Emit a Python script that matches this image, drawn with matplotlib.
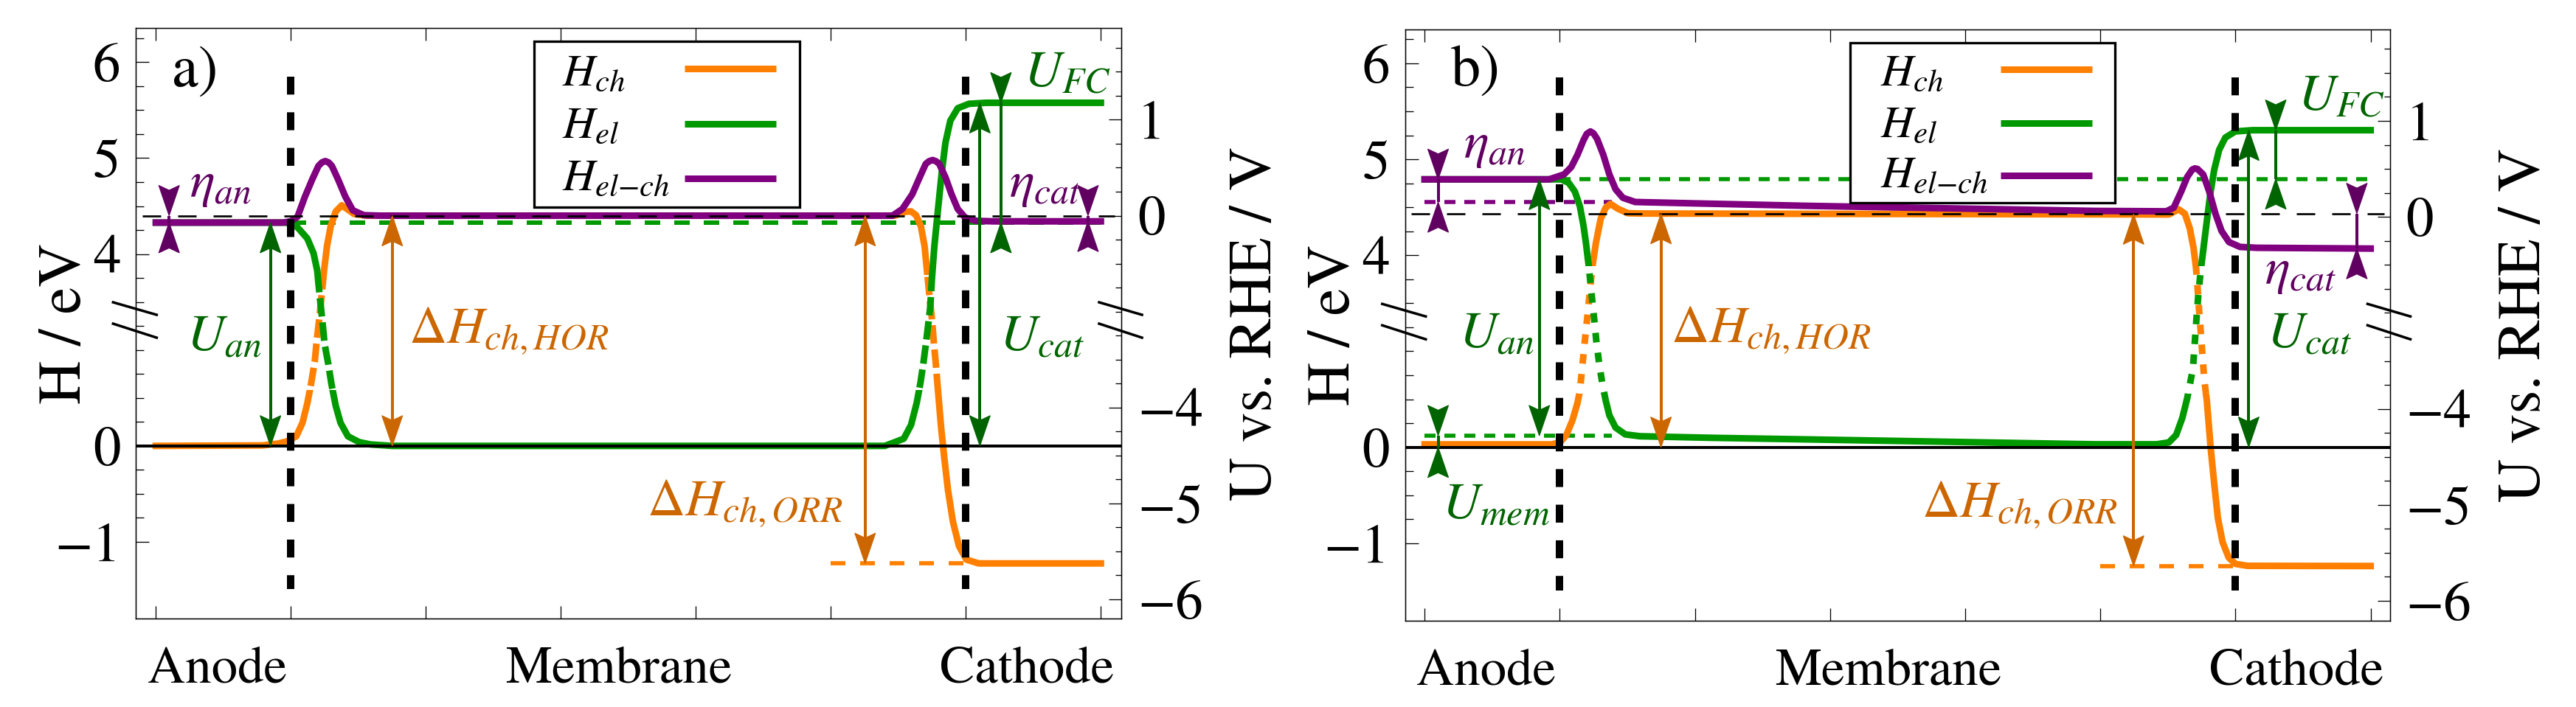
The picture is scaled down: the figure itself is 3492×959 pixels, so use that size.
import numpy as np
import matplotlib
matplotlib.use("Agg")
import matplotlib.pyplot as plt
import matplotlib.transforms as mtransforms
from matplotlib.patches import Rectangle, Polygon
from matplotlib.lines import Line2D
from matplotlib.ticker import FixedLocator

DPI = 100


def pt(px):
    return px * 72.0 / DPI


plt.rcParams['font.family'] = ['STIXGeneral', 'DejaVu Serif']
plt.rcParams['mathtext.fontset'] = 'stix'
plt.rcParams['lines.scale_dashes'] = False

C_ORANGE = '#ff8000'
C_GREEN = '#009900'
C_PURPLE = '#800080'
C_DKGREEN = '#006400'
C_BROWN = '#cc6600'
C_DKPURPLE = '#600060'

# ---------------- shared axis data ----------------
pos_labels = ['Anode', 'Membrane', 'Cathode']
pos_label_x = [0.455, 3.43, 6.45]
x_tick_pos = [0, 1, 2, 3, 4, 5, 6, 7]
h_tick_pos = [-1, 0, 2, 3, 4]
h_tick_lab = ['\u22121', '0', '4', '5', '6']
u_tick_pos = [-1.6, -0.6, 0.4, 2.4, 3.4]
u_tick_lab = ['\u22126', '\u22125', '\u22124', '0', '1']
interface_x = [1.0, 6.0]
interface_y = [3.85, -1.49]
legend_labels = [r'$H_{ch}$', r'$H_{el}$', r'$H_{el{-}ch}$']
legend_colors = [C_ORANGE, C_GREEN, C_PURPLE]

# ---------------- panel a data ----------------
a_orange_x = [0.0, 0.79, 0.904, 0.977, 1.04, 1.086, 1.122, 1.15, 1.177, 1.191,
              1.21, 1.228, 1.246, 1.268, 1.295, 1.332, 1.377, 1.468, 1.56, 5.475,
              5.549, 5.594, 5.631, 5.667, 5.694, 5.712, 5.73, 5.749, 5.767, 5.776,
              5.794, 5.817, 5.84, 5.867, 5.904, 5.949, 6.004, 6.095, 6.2, 7.0]
a_orange_y = [0.0, 0.005, 0.024, 0.05, 0.10, 0.24, 0.445, 0.65, 0.88, 1.09,
              1.32, 1.57, 1.83, 2.085, 2.29, 2.443, 2.508, 2.418, 2.40, 2.40,
              2.44, 2.445, 2.405, 2.29, 2.085, 1.83, 1.57, 1.32, 1.01, 0.88,
              0.572, 0.188, -0.12, -0.453, -0.788, -1.044, -1.185, -1.225, -1.225, -1.225]
a_green_x = [0.0, 0.95, 1.0, 1.05, 1.122, 1.168, 1.195, 1.213, 1.232, 1.25,
             1.277, 1.30, 1.332, 1.368, 1.423, 1.505, 1.59, 1.75, 5.40, 5.457,
             5.54, 5.594, 5.636, 5.663, 5.685, 5.708, 5.736, 5.749, 5.767, 5.794,
             5.822, 5.849, 5.885, 5.94, 6.022, 6.15, 7.0]
a_green_y = [2.328, 2.328, 2.318, 2.277, 2.162, 2.008, 1.83, 1.57, 1.32, 1.06,
             0.857, 0.65, 0.42, 0.24, 0.10, 0.04, 0.015, 0.0, 0.0, 0.03,
             0.075, 0.218, 0.448, 0.652, 0.857, 1.11, 1.443, 1.75, 2.085, 2.47,
             2.855, 3.162, 3.39, 3.52, 3.566, 3.577, 3.577]
a_purple_x = [0.0, 0.94, 1.0, 1.05, 1.104, 1.158, 1.204, 1.23, 1.255, 1.28, 1.304,
              1.35, 1.404, 1.459, 1.541, 1.67, 5.457, 5.53, 5.603, 5.658, 5.703,
              5.728, 5.754, 5.778, 5.803, 5.849, 5.894, 5.94, 5.995, 6.077, 6.2, 7.0]
a_purple_y = [2.328, 2.328, 2.341, 2.39, 2.597, 2.777, 2.918, 2.955, 2.969, 2.955, 2.918,
              2.777, 2.597, 2.456, 2.405, 2.40, 2.40, 2.47, 2.623, 2.80, 2.94,
              2.968, 2.98, 2.968, 2.94, 2.80, 2.623, 2.47, 2.38, 2.346, 2.341, 2.341]
a_ref_level = 2.40
a_green_dash = (2.328, [1.0, 7.0])
a_orange_dash = (-1.225, [5.0, 6.0])
a_dash_band = (0.58, 1.78)

a_darrow_x = [0.849, 1.751, 5.254, 6.104]
a_darrow_top = [2.328, 2.40, 2.40, 3.577]
a_darrow_bot = [0.0, 0.0, -1.225, 0.0]
a_darrow_col = [C_DKGREEN, C_BROWN, C_BROWN, C_DKGREEN]
a_iarrow_x = [0.098, 6.26, 6.905]
a_iarrow_hi = [2.40, 3.577, 2.40]
a_iarrow_lo = [2.328, 2.328, 2.341]
a_iarrow_col = [C_DKPURPLE, C_DKGREEN, C_DKPURPLE]

a_lab_text = [r'$\eta_{an}$', r'$U_{an}$', r'$\Delta H_{ch,HOR}$', r'$\Delta H_{ch,ORR}$',
              r'$U_{FC}$', r'$\eta_{cat}$', r'$U_{cat}$']
a_lab_x = [0.248, 0.226, 1.873, 5.09, 6.43, 6.32, 6.25]
a_lab_y = [2.60, 1.00, 1.073, -0.723, 3.75, 2.60, 1.00]
a_lab_ha = ['left', 'left', 'left', 'right', 'left', 'left', 'left']
a_lab_col = [C_DKPURPLE, C_DKGREEN, C_BROWN, C_BROWN, C_DKGREEN, C_DKPURPLE, C_DKGREEN]

a_legend_box = (2.80, 2.489, 4.77, 4.218)
a_legend_line_x = [3.917, 4.592]
a_legend_line_y = [3.93, 3.354, 2.785]
a_legend_text_x = 3.008
a_legend_text_y = [3.758, 3.212, 2.667]

# ---------------- panel b data ----------------
b_orange_x = [0.0, 0.94, 1.003, 1.049, 1.094, 1.131, 1.149, 1.167, 1.185, 1.204,
              1.222, 1.24, 1.267, 1.303, 1.34, 1.376, 1.431, 1.504, 1.6, 5.507,
              5.58, 5.626, 5.662, 5.69, 5.708, 5.717, 5.729, 5.743, 5.756, 5.77,
              5.788, 5.816, 5.843, 5.87, 5.905, 5.95, 6.0, 6.09, 7.0]
b_orange_y = [0.03, 0.03, 0.051, 0.128, 0.282, 0.461, 0.589, 0.845, 1.101, 1.357,
              1.613, 1.869, 2.125, 2.381, 2.496, 2.535, 2.484, 2.438, 2.435, 2.425,
              2.479, 2.432, 2.279, 2.074, 1.869, 1.715, 1.459, 1.204, 0.948, 0.691,
              0.487, 0.0, -0.384, -0.74, -0.99, -1.15, -1.215, -1.235, -1.237]
b_green_x = [0.0, 0.95, 1.012, 1.067, 1.112, 1.149, 1.176, 1.194, 1.216, 1.234,
             1.253, 1.271, 1.294, 1.318, 1.34, 1.367, 1.413, 1.485, 1.594, 2.14,
             2.832, 4.961, 5.416, 5.507, 5.561, 5.607, 5.643, 5.685, 5.698, 5.711,
             5.725, 5.743, 5.788, 5.816, 5.843, 5.879, 5.925, 5.998, 6.125, 7.0]
b_green_y = [2.791, 2.791, 2.791, 2.753, 2.663, 2.509, 2.304, 2.125, 1.869, 1.613,
             1.357, 1.101, 0.845, 0.640, 0.487, 0.333, 0.205, 0.134, 0.115, 0.098,
             0.082, 0.031, 0.031, 0.051, 0.128, 0.307, 0.512, 0.819, 1.075, 1.332,
             1.588, 1.843, 2.356, 2.663, 2.893, 3.098, 3.226, 3.29, 3.303, 3.303]
b_purple_x = [0.0, 0.921, 1.031, 1.085, 1.131, 1.176, 1.20, 1.227, 1.25, 1.276,
              1.322, 1.367, 1.413, 1.467, 1.558, 1.958, 2.832, 4.961, 5.488, 5.543,
              5.598, 5.643, 5.68, 5.70, 5.719, 5.761, 5.806, 5.852, 5.897, 5.952,
              6.034, 6.16, 7.0]
b_purple_y = [2.791, 2.791, 2.842, 2.919, 3.047, 3.200, 3.265, 3.290, 3.27, 3.213,
              3.047, 2.842, 2.688, 2.599, 2.555, 2.542, 2.515, 2.462, 2.458, 2.496,
              2.663, 2.816, 2.893, 2.905, 2.899, 2.842, 2.663, 2.432, 2.253, 2.138,
              2.087, 2.078, 2.07]
b_ref_level = 2.435
b_green_dash = (2.796, [1.0, 7.0])
b_green_dash_low = (0.121, [0.0, 1.386])
b_purple_dash = (2.555, [0.0, 1.386])
b_orange_dash = (-1.237, [5.0, 6.0])
b_dash_band = (0.56, 1.89)

b_darrow_x = [0.849, 1.749, 5.246, 6.098]
b_darrow_top = [2.791, 2.435, 2.43, 3.303]
b_darrow_bot = [0.121, 0.0, -1.237, 0.0]
b_darrow_col = [C_DKGREEN, C_BROWN, C_BROWN, C_DKGREEN]
b_iarrow_x = [0.10, 0.10, 6.298, 6.898]
b_iarrow_hi = [2.791, 0.121, 3.303, 2.435]
b_iarrow_lo = [2.555, 0.0, 2.796, 2.07]
b_iarrow_col = [C_DKPURPLE, C_DKGREEN, C_DKGREEN, C_DKPURPLE]

b_lab_text = [r'$\eta_{an}$', r'$U_{an}$', r'$U_{mem}$', r'$\Delta H_{ch,HOR}$',
              r'$\Delta H_{ch,ORR}$', r'$U_{FC}$', r'$U_{cat}$', r'$\eta_{cat}$']
b_lab_x = [0.288, 0.256, 0.131, 1.822, 5.13, 6.46, 6.234, 6.216]
b_lab_y = [3.015, 1.037, -0.743, 1.101, -0.72, 3.51, 1.037, 1.70]
b_lab_ha = ['left', 'left', 'left', 'left', 'right', 'left', 'left', 'left']
b_lab_col = [C_DKPURPLE, C_DKGREEN, C_DKGREEN, C_BROWN, C_BROWN, C_DKGREEN, C_DKGREEN, C_DKPURPLE]

b_legend_box = (3.15, 2.546, 5.11, 4.21)
b_legend_line_x = [4.26, 4.94]
b_legend_line_y = [3.94, 3.377, 2.828]
b_legend_text_x = 3.37
b_legend_text_y = [3.768, 3.235, 2.71]

# ---------------- style constants ----------------
HEAD_L = 41.0 / 130.0      # arrow head length (y data units)
HEAD_W = 14.0 / 183.0      # arrow head half width (x data units)
HEAD_NOTCH = 0.84
CURVE_LW = pt(9)
TICK_FS = 54
POS_FS = 51
AXLAB_FS = 59
ANN_FS = 51
LEG_FS = 44

fig = plt.figure(figsize=(34.92, 9.59), dpi=DPI)
fig.patch.set_facecolor('white')


def draw_curve(ax, x, y, color, band, dash, z):
    lo, hi = band
    r_low = Rectangle((-1, -50), 9, 50 + lo, transform=ax.transData)
    r_high = Rectangle((-1, hi), 9, 50, transform=ax.transData)
    r_mid = Rectangle((-1, lo), 9, hi - lo, transform=ax.transData)
    for r in (r_low, r_high):
        ln, = ax.plot(x, y, color=color, lw=CURVE_LW, solid_capstyle='projecting',
                      solid_joinstyle='round', zorder=z)
        ln.set_clip_path(r)
    ln, = ax.plot(x, y, color=color, lw=CURVE_LW, dashes=dash, dash_capstyle='butt',
                  dash_joinstyle='round', zorder=z)
    ln.set_clip_path(r_mid)


def arrow_head(ax, x, ytip, up, color, z):
    s = 1 if up else -1
    yb = ytip - s * HEAD_L
    yn = ytip - s * HEAD_L * HEAD_NOTCH
    ax.add_patch(Polygon([(x, ytip), (x - HEAD_W, yb), (x, yn), (x + HEAD_W, yb)],
                         closed=True, facecolor=color, edgecolor=color, lw=0.8, zorder=z))


def double_arrow(ax, x, top, bot, color):
    ax.plot([x, x], [top - 0.7 * HEAD_L, bot + 0.7 * HEAD_L], color=color, lw=pt(4),
            solid_capstyle='butt', zorder=5)
    arrow_head(ax, x, top, True, color, 5.1)
    arrow_head(ax, x, bot, False, color, 5.1)


def inward_arrow(ax, x, hi, lo, color):
    ax.plot([x, x], [lo, hi], color=color, lw=pt(4), solid_capstyle='butt', zorder=5)
    arrow_head(ax, x, hi, False, color, 5.1)
    arrow_head(ax, x, lo, True, color, 5.1)


def setup_axes(rect, xlim, ylim, letter, letter_xy):
    ax = fig.add_axes(rect)
    ax.set_xlim(*xlim)
    ax.set_ylim(*ylim)
    for sp in ax.spines.values():
        sp.set_linewidth(pt(1.3))
    ax.set_xticks(x_tick_pos)
    ax.set_xticklabels([])
    ax.tick_params(axis='x', which='major', direction='in', top=True, bottom=True,
                   length=pt(17), width=pt(1.3))
    ax.set_yticks(h_tick_pos)
    ax.set_yticklabels(h_tick_lab)
    ax.yaxis.set_minor_locator(FixedLocator(np.arange(-1.0, 4.26, 0.25)))
    ax.tick_params(axis='y', which='major', direction='in', left=True, right=False,
                   length=pt(18), width=pt(1.3), labelsize=TICK_FS, pad=pt(21))
    ax.tick_params(axis='y', which='minor', direction='in', left=True, right=False,
                   length=pt(10.7), width=pt(1.3))
    ax2 = ax.twinx()
    ax2.set_ylim(*ylim)
    for sp in ax2.spines.values():
        sp.set_linewidth(pt(1.3))
    ax2.set_yticks(u_tick_pos)
    ax2.set_yticklabels(u_tick_lab)
    ax2.yaxis.set_minor_locator(FixedLocator(np.arange(-1.6, 4.16, 0.25)))
    ax2.tick_params(axis='y', which='major', direction='in', right=True, left=False,
                    length=pt(17), width=pt(1.3), labelsize=TICK_FS, pad=pt(22))
    ax2.tick_params(axis='y', which='minor', direction='in', right=True, left=False,
                    length=pt(8.5), width=pt(1.3))
    # position labels
    trans = mtransforms.blended_transform_factory(ax.transData, ax.transAxes)
    for lab, xp in zip(pos_labels, pos_label_x):
        ax.text(xp, -0.108, lab, transform=trans, ha='center', va='baseline',
                fontsize=POS_FS)
    # axis titles
    ax.text(-0.0565, 0.5, 'H / eV', transform=ax.transAxes, rotation=90,
            rotation_mode='anchor', ha='center', va='baseline', fontsize=AXLAB_FS)
    ax.text(1.152, 0.5, 'U vs. RHE / V', transform=ax.transAxes, rotation=90,
            rotation_mode='anchor', ha='center', va='baseline', fontsize=AXLAB_FS)
    # axis break marks
    for yy in ((0.5359, 0.5147), (0.4997, 0.4760)):
        for xs in ((-0.0232, 0.0210), (1 - 0.0225, 1 + 0.0210)):
            ax.add_line(Line2D(xs, yy, transform=ax.transAxes, color='black',
                               lw=pt(3.5), clip_on=False, zorder=7))
    ax.text(letter_xy[0], letter_xy[1], letter, ha='left', va='baseline', fontsize=58,
            zorder=8)
    return ax


def common_lines(ax, ref_level):
    ax.axhline(0.0, color='black', lw=pt(4), zorder=3.5)
    ax.plot([-0.1, 7.1], [ref_level, ref_level], color='black', lw=pt(2.7),
            dashes=(pt(25), pt(23)), zorder=3.6)
    for xv in interface_x:
        ax.plot([xv, xv], interface_y, color='black', lw=pt(10),
                dashes=(pt(24.3), pt(24)), dash_capstyle='butt', zorder=6)


def draw_legend(ax, box, line_x, line_y, text_x, text_y):
    x0, y0, x1, y1 = box
    ax.add_patch(Rectangle((x0, y0), x1 - x0, y1 - y0, facecolor='white',
                           edgecolor='black', lw=pt(3.3), zorder=4))
    for lab, col, ly, ty in zip(legend_labels, legend_colors, line_y, text_y):
        ax.plot(line_x, [ly, ly], color=col, lw=CURVE_LW, solid_capstyle='butt', zorder=4.1)
        ax.text(text_x, ty, lab, fontsize=LEG_FS, ha='left', va='baseline', zorder=4.2)


def draw_labels(ax, texts, xs, ys, has, cols):
    for t, x, y, ha, c in zip(texts, xs, ys, has, cols):
        ax.text(x, y, t, color=c, ha=ha, va='baseline', fontsize=ANN_FS, zorder=8)


# ================= panel a =================
axa = setup_axes([0.052778, 0.124818, 0.382503, 0.835245], (-0.1475, 7.1514),
                 (-1.802, 4.354), 'a)', (0.12, 3.75))
dash_a = (pt(25), pt(8))
draw_curve(axa, a_orange_x, a_orange_y, C_ORANGE, a_dash_band, dash_a, 3.0)
draw_curve(axa, a_green_x, a_green_y, C_GREEN, a_dash_band, dash_a, 3.1)
draw_curve(axa, a_purple_x, a_purple_y, C_PURPLE, a_dash_band, dash_a, 3.2)
axa.plot(a_green_dash[1], [a_green_dash[0]] * 2, color=C_GREEN, lw=pt(6),
         dashes=(pt(21), pt(19)), zorder=2.5)
axa.plot(a_orange_dash[1], [a_orange_dash[0]] * 2, color=C_ORANGE, lw=pt(5.7),
         dashes=(pt(20), pt(20)), zorder=2.5)
common_lines(axa, a_ref_level)
for x, t, b, c in zip(a_darrow_x, a_darrow_top, a_darrow_bot, a_darrow_col):
    double_arrow(axa, x, t, b, c)
for x, h, l, c in zip(a_iarrow_x, a_iarrow_hi, a_iarrow_lo, a_iarrow_col):
    inward_arrow(axa, x, h, l, c)
draw_labels(axa, a_lab_text, a_lab_x, a_lab_y, a_lab_ha, a_lab_col)
draw_legend(axa, a_legend_box, a_legend_line_x, a_legend_line_y, a_legend_text_x,
            a_legend_text_y)

# ================= panel b =================
axb = setup_axes([0.545447, 0.122419, 0.382245, 0.835454], (-0.1447, 7.1414),
                 (-1.804, 4.349), 'b)', (0.194, 3.767))
dash_b = (pt(13), pt(14))
draw_curve(axb, b_orange_x, b_orange_y, C_ORANGE, b_dash_band, dash_b, 3.0)
draw_curve(axb, b_green_x, b_green_y, C_GREEN, b_dash_band, dash_b, 3.1)
draw_curve(axb, b_purple_x, b_purple_y, C_PURPLE, b_dash_band, dash_b, 3.2)
for (lvl, xr), col in ((b_green_dash, C_GREEN), (b_green_dash_low, C_GREEN),
                       (b_purple_dash, C_PURPLE)):
    axb.plot(xr, [lvl, lvl], color=col, lw=pt(5.5), dashes=(pt(15), pt(12)), zorder=2.5)
axb.plot(b_orange_dash[1], [b_orange_dash[0]] * 2, color=C_ORANGE, lw=pt(5.7),
         dashes=(pt(20), pt(20)), zorder=2.5)
common_lines(axb, b_ref_level)
for x, t, b, c in zip(b_darrow_x, b_darrow_top, b_darrow_bot, b_darrow_col):
    double_arrow(axb, x, t, b, c)
for x, h, l, c in zip(b_iarrow_x, b_iarrow_hi, b_iarrow_lo, b_iarrow_col):
    inward_arrow(axb, x, h, l, c)
draw_labels(axb, b_lab_text, b_lab_x, b_lab_y, b_lab_ha, b_lab_col)
draw_legend(axb, b_legend_box, b_legend_line_x, b_legend_line_y, b_legend_text_x,
            b_legend_text_y)

fig.savefig('out.png', dpi=DPI, facecolor='white')
